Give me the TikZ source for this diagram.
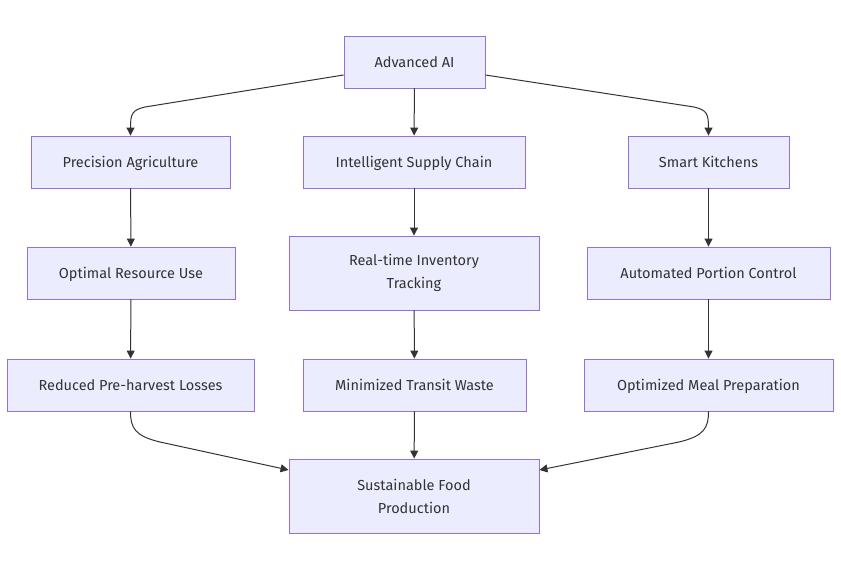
\documentclass[tikz,border=0pt]{standalone}
\usepackage{fontspec}
\setmainfont{Fira Sans}
\usetikzlibrary{arrows.meta}
\definecolor{boxfill}{HTML}{ECECFF}
\definecolor{boxline}{HTML}{9370DB}
\definecolor{ink}{HTML}{333333}
\begin{document}
\begin{tikzpicture}[x=1pt,y=-1pt,
  box/.style={draw=boxline, fill=boxfill, line width=0.9pt, inner sep=0pt,
    text=ink, font=\fontsize{14.5}{23}\selectfont, align=center, anchor=center},
  one/.style={box, text height=12.5pt, text depth=1.5pt, minimum height=52pt},
  two/.style={box, minimum height=74pt},
  link/.style={draw=ink, line width=1pt, -{Triangle[length=8pt,width=8pt]}}]
\useasboundingbox (0,0) rectangle (841,570);
\node[one, minimum width=141pt] (ai) at (414.5,62) {Advanced AI};
\node[one, minimum width=199pt] (pa) at (130.5,162) {Precision Agriculture};
\node[one, minimum width=222pt] (sc) at (414,162) {Intelligent Supply Chain};
\node[one, minimum width=161pt] (sk) at (708.5,162) {Smart Kitchens};
\node[one, minimum width=208pt] (or) at (131,273) {Optimal Resource Use};
\node[two, minimum width=250pt] (rt) at (414,273) {Real-time Inventory\\Tracking};
\node[one, minimum width=243pt] (ap) at (708.5,273) {Automated Portion Control};
\node[one, minimum width=247pt] (rp) at (130.5,385) {Reduced Pre-harvest Losses};
\node[one, minimum width=223pt] (mt) at (414.5,385) {Minimized Transit Waste};
\node[one, minimum width=249pt] (om) at (708.5,385) {Optimized Meal Preparation};
\node[two, minimum width=250pt] (sf) at (414,496) {Sustainable Food\\Production};

\draw[link] (ai.west |- 0,75) -- (145,107) .. controls (132,110) and (130.5,114) .. (pa.north);
\draw[link] (ai) -- (sc);
\draw[link] (ai.east |- 0,75) -- (694,107) .. controls (707,110) and (708.5,114) .. (sk.north);
\draw[link] (pa) -- (or);
\draw[link] (or) -- (rp);
\draw[link] (sc) -- (rt);
\draw[link] (rt) -- (mt);
\draw[link] (sk) -- (ap);
\draw[link] (ap) -- (om);
\draw[link] (rp.south) .. controls (130.5,428) and (135,436) .. (160,442) -- (sf.west |- 0,470);
\draw[link] (om.south) .. controls (708.5,428) and (704,436) .. (679,442) -- (sf.east |- 0,470);
\draw[link] (mt) -- (sf);
\end{tikzpicture}
\end{document}
